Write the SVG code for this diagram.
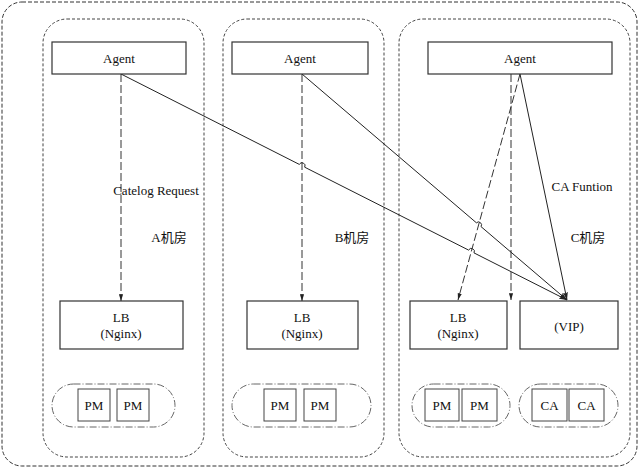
<svg xmlns="http://www.w3.org/2000/svg" width="640" height="469" viewBox="0 0 640 469">
<defs>
<marker id="ah" viewBox="0 0 8 6" refX="8" refY="3" markerWidth="8" markerHeight="6" markerUnits="userSpaceOnUse" orient="auto">
<path d="M0,0.5 L8,3 L0,5.5 L1.5,3 Z" fill="#222"/>
</marker>
<marker id="ahs" viewBox="0 0 8 6" refX="8" refY="3" markerWidth="7" markerHeight="5" markerUnits="userSpaceOnUse" orient="auto">
<path d="M0,0.5 L8,3 L0,5.5 Z" fill="#222"/>
</marker>
</defs>
<style>
text{font-family:"Liberation Serif","Times New Roman",serif;font-size:13px;fill:#111;text-anchor:middle;dominant-baseline:central}
.cjk{font-family:"Liberation Serif","Noto Sans CJK SC",serif}
.outer{fill:#fff;stroke:#333;stroke-width:1;stroke-dasharray:4,2}
.room{fill:none;stroke:#444;stroke-width:1;stroke-dasharray:3,2}
.box{fill:#fff;stroke:#333;stroke-width:1.2}
.grp{fill:none;stroke:#666;stroke-width:1;stroke-dasharray:7,2,1,2}
.sbox{fill:#fff;stroke:#444;stroke-width:1}
.dash{fill:none;stroke:#333;stroke-width:1;stroke-dasharray:8,3}
.solid{fill:none;stroke:#222;stroke-width:1}
</style>
<rect width="640" height="469" fill="#fff"/>
<rect class="outer" x="2" y="2" width="635" height="464" rx="20"/>
<g id="roomA"><rect class="room" x="43" y="19" width="161" height="438" rx="24"/></g>
<g id="roomB"><rect class="room" x="223" y="19" width="161" height="438" rx="24"/></g>
<g id="roomC"><rect class="room" x="399" y="19" width="231" height="438" rx="24"/></g>

<g id="connectors">
<line class="dash" x1="121" y1="74" x2="121" y2="301" marker-end="url(#ahs)"/>
<line class="dash" x1="302" y1="74" x2="302" y2="301" marker-end="url(#ahs)"/>
<line class="dash" x1="511" y1="74" x2="511" y2="300" marker-end="url(#ahs)"/>
<line class="dash" x1="520" y1="74" x2="458" y2="300" marker-end="url(#ahs)"/>
<path class="solid" d="M121,74 L299.3,164.4 A3,3 0 0 1 304.7,167.2 L468.6,250.1 A3,3 0 0 1 474,252.9 L567,300" marker-end="url(#ah)"/>
<path class="solid" d="M302,74 L476.4,222.8 A3,3 0 0 1 481,226.6 L567,300" marker-end="url(#ah)"/>
<line class="solid" x1="520" y1="74" x2="567" y2="300" marker-end="url(#ah)"/>
</g>

<g id="agentA"><rect class="box" x="52" y="42" width="134" height="32"/><text x="119" y="58">Agent</text></g>
<g id="agentB"><rect class="box" x="232" y="42" width="136" height="32"/><text x="300" y="58">Agent</text></g>
<g id="agentC"><rect class="box" x="428" y="42" width="184" height="32"/><text x="520" y="58">Agent</text></g>

<g id="labels">
<text x="156" y="190">Catelog Request</text>
<text x="582" y="186">CA Funtion</text>
<text class="cjk" x="169" y="237">A机房</text>
<text class="cjk" x="352" y="237">B机房</text>
<text class="cjk" x="588" y="237">C机房</text>
</g>

<g id="lbA"><rect class="box" x="60" y="301" width="123" height="48"/><text x="121" y="317">LB</text><text x="121" y="333">(Nginx)</text></g>
<g id="lbB"><rect class="box" x="247" y="301" width="111" height="48"/><text x="302" y="317">LB</text><text x="302" y="333">(Nginx)</text></g>
<g id="lbC"><rect class="box" x="410" y="301" width="97" height="48"/><text x="458" y="317">LB</text><text x="458" y="333">(Nginx)</text></g>
<g id="vip"><rect class="box" x="520" y="301" width="98" height="48"/><text x="569" y="326">(VIP)</text></g>

<g id="pmA"><rect class="grp" x="52" y="384" width="123" height="43" rx="21.5"/>
<rect class="sbox" x="78" y="389" width="32" height="32"/><text x="94" y="405">PM</text>
<rect class="sbox" x="117" y="389" width="32" height="32"/><text x="133" y="405">PM</text></g>
<g id="pmB"><rect class="grp" x="232" y="384" width="139" height="43" rx="21.5"/>
<rect class="sbox" x="264" y="389" width="32" height="32"/><text x="280" y="405">PM</text>
<rect class="sbox" x="304" y="389" width="32" height="32"/><text x="320" y="405">PM</text></g>
<g id="pmC"><rect class="grp" x="412" y="384" width="98" height="43" rx="21.5"/>
<rect class="sbox" x="425" y="389" width="34" height="32"/><text x="442" y="405">PM</text>
<rect class="sbox" x="462" y="389" width="35" height="32"/><text x="479.5" y="405">PM</text></g>
<g id="caC"><rect class="grp" x="519" y="384" width="99" height="43" rx="21.5"/>
<rect class="sbox" x="532" y="389" width="35" height="32"/><text x="549.5" y="405">CA</text>
<rect class="sbox" x="569" y="389" width="35" height="32"/><text x="586.5" y="405">CA</text></g>
</svg>
